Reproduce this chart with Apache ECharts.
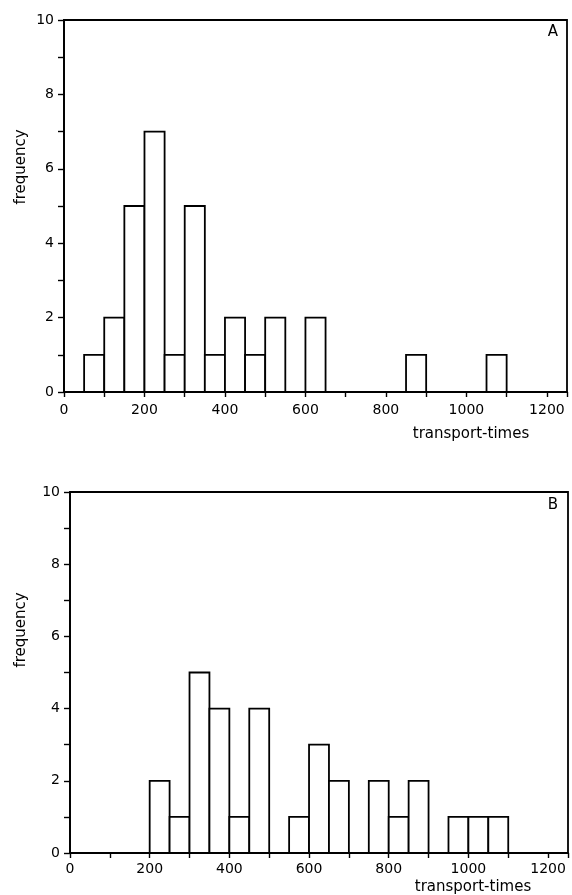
<!DOCTYPE html>
<html>
<head>
<meta charset="utf-8">
<script src="https://cdn.jsdelivr.net/npm/echarts@6/dist/echarts.min.js"></script>
<style>
  html, body { margin: 0; padding: 0; background: #fff; }
  #chart { width: 572px; height: 895px; }
</style>
</head>
<body>
<div id="chart"></div>
<script>
// Bin starts (transport-times), each bin is 50 wide
const binStarts = [0, 50, 100, 150, 200, 250, 300, 350, 400, 450, 500, 550, 600,
                   650, 700, 750, 800, 850, 900, 950, 1000, 1050, 1100, 1150, 1200];
const binWidth = 50;

// Panel A frequencies
const countsA = [0, 1, 2, 5, 7, 1, 5, 1, 2, 1, 2, 0, 2,
                 0, 0, 0, 0, 1, 0, 0, 0, 1, 0, 0, 0];
// Panel B frequencies
const countsB = [0, 0, 0, 0, 2, 1, 5, 4, 1, 4, 0, 1, 3,
                 2, 0, 2, 1, 2, 0, 1, 1, 1, 0, 0, 0];

const panelLabels = ['A', 'B'];
const xName = 'transport-times';
const yName = 'frequency';

const chart = echarts.init(document.getElementById('chart'));

// Build [start, end, count] triples, dropping empty bins
const toBins = counts => binStarts
    .map((s, i) => [s, s + binWidth, counts[i]])
    .filter(d => d[2] > 0);

const renderBar = (params, api) => {
    const p0 = api.coord([api.value(0), 0]);
    const p1 = api.coord([api.value(1), api.value(2)]);
    return {
        type: 'rect',
        shape: { x: p0[0], y: p1[1], width: p1[0] - p0[0], height: p0[1] - p1[1] },
        style: { fill: '#fff', stroke: '#000', lineWidth: 1.8 }
    };
};

const font = '"DejaVu Sans", sans-serif';

const makeX = (gridIndex, margin) => ({
    type: 'value',
    gridIndex: gridIndex,
    min: 0,
    max: 1250,
    interval: 100,
    axisLine: { show: true, lineStyle: { color: '#000', width: 1.8 } },
    axisTick: { show: true, length: 5, lineStyle: { color: '#000', width: 1.4 } },
    axisLabel: {
        color: '#000', fontSize: 14, fontFamily: font, margin: margin,
        formatter: v => (v % 200 === 0 ? String(v) : '')
    },
    splitLine: { show: false }
});

const makeY = gridIndex => ({
    type: 'value',
    gridIndex: gridIndex,
    min: 0,
    max: 10,
    interval: 1,
    axisLine: { show: true, lineStyle: { color: '#000', width: 1.8 } },
    axisTick: { show: true, length: 6, lineStyle: { color: '#000', width: 1.4 } },
    axisLabel: {
        color: '#000', fontSize: 14, fontFamily: font, margin: 10,
        formatter: v => (v % 2 === 0 ? String(v) : '')
    },
    splitLine: { show: false }
});

const textEl = (x, y, text, rotation) => ({
    type: 'text',
    x: x,
    y: y,
    rotation: rotation || 0,
    style: {
        text: text,
        font: '15px ' + font,
        fill: '#000',
        textAlign: 'center',
        textVerticalAlign: 'middle'
    }
});

const option = {
    backgroundColor: '#fff',
    animation: false,
    grid: [
        { left: 64, right: 5, top: 20, height: 372, show: true, borderColor: '#000', borderWidth: 1.8 },
        { left: 70, right: 4, top: 492, height: 361, show: true, borderColor: '#000', borderWidth: 1.8 }
    ],
    xAxis: [makeX(0, 11), makeX(1, 9)],
    yAxis: [makeY(0), makeY(1)],
    series: [
        {
            type: 'custom',
            xAxisIndex: 0,
            yAxisIndex: 0,
            renderItem: renderBar,
            encode: { x: [0, 1], y: 2 },
            data: toBins(countsA)
        },
        {
            type: 'custom',
            xAxisIndex: 1,
            yAxisIndex: 1,
            renderItem: renderBar,
            encode: { x: [0, 1], y: 2 },
            data: toBins(countsB)
        }
    ],
    graphic: [
        textEl(553, 32, panelLabels[0]),
        textEl(553, 505, panelLabels[1]),
        textEl(21, 167, yName, Math.PI / 2),
        textEl(21, 630, yName, Math.PI / 2),
        textEl(471, 434, xName),
        textEl(473, 887, xName)
    ]
};

chart.setOption(option);
</script>
</body>
</html>
